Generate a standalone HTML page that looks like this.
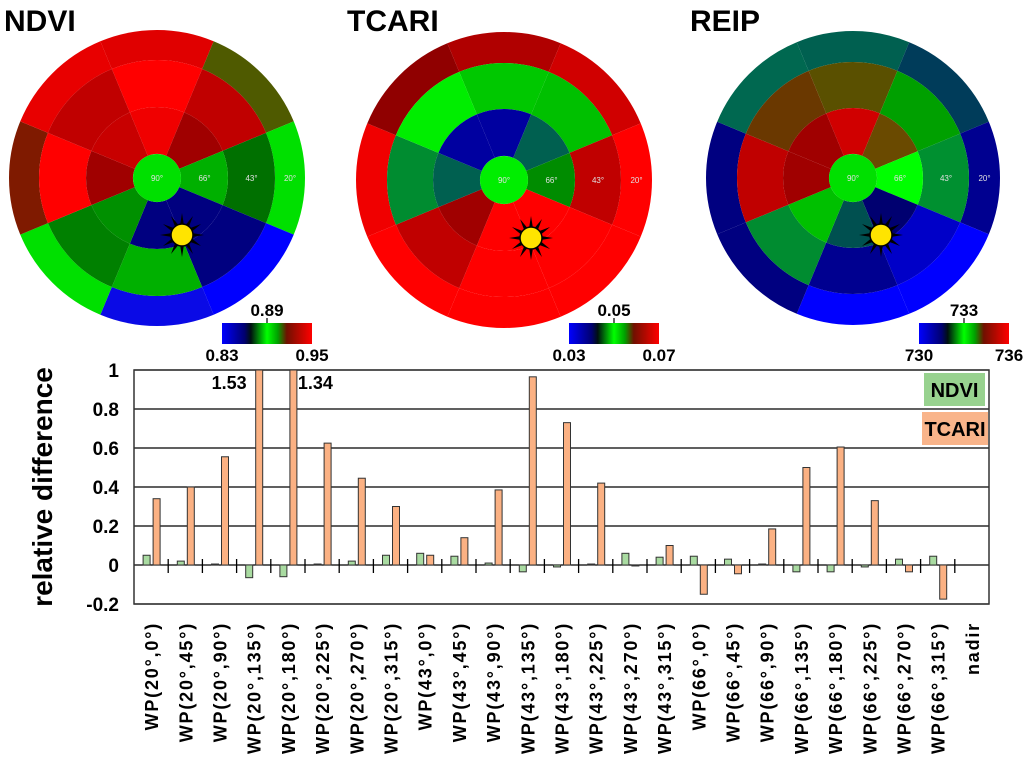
<!DOCTYPE html>
<html><head><meta charset="utf-8">
<style>
html,body{margin:0;padding:0;background:#fff;}
svg{display:block;font-family:"Liberation Sans",sans-serif;}
</style></head>
<body>
<svg id="fig" width="1024" height="763" viewBox="0 0 1024 763" xmlns="http://www.w3.org/2000/svg">
<defs>
<linearGradient id="cmap" x1="0" x2="1" y1="0" y2="0">
<stop offset="0" stop-color="#0000ff"/>
<stop offset="0.25" stop-color="#000070"/>
<stop offset="0.32" stop-color="#001010"/>
<stop offset="0.5" stop-color="#00ff00"/>
<stop offset="0.62" stop-color="#00a000"/>
<stop offset="0.72" stop-color="#701000"/>
<stop offset="1" stop-color="#ff0000"/>
</linearGradient>
</defs>
<g id="polars"></g>
<g id="chart"></g>
</svg>
<script>
// Polar heatmaps: sectors N,NE,E,SE,S,SW,W,NW; rings outer(20°), middle(43°), inner(66°)
const ndviOuter = ["#e00000","#4f5a00","#00e000","#0000ff","#0a0ae6","#00e000","#7f1a00","#e80000"];
const ndviMiddle = ["#ff0000","#c00000","#007000","#000080","#00b000","#008000","#ff0000","#c00000"];
const ndviInner = ["#f00000","#a00000","#00b000","#000080","#000080","#009000","#a00000","#c80000"];
const ndviCenter = "#00e000";
const tcariOuter = ["#b00000","#d00000","#ff0000","#ff0000","#ff0000","#ff0000","#f00000","#900000"];
const tcariMiddle = ["#00c800","#00c000","#c00000","#ff0000","#ff0000","#c00000","#008c30","#00ee00"];
const tcariInner = ["#0000a0","#006050","#008c00","#ff0000","#ff0000","#a00000","#006050","#0000a0"];
const tcariCenter = "#00ee00";
const reipOuter = ["#006050","#003c5a","#000090","#0000ff","#0000ff","#000080","#000080","#006850"];
const reipMiddle = ["#5a5000","#00a000","#009030","#0000c8","#000090","#008c30","#c00000","#6a3800"];
const reipInner = ["#d00000","#6a4a00","#00ff00","#000070","#005050","#00c000","#a00000","#a00000"];
const reipCenter = "#00e000";
const polarTitles = ["NDVI","TCARI","REIP"];
const cbarLabels = [["0.83","0.89","0.95"],["0.03","0.05","0.07"],["730","733","736"]];

// Bar chart data
const categories = ["WP(20°,0°)","WP(20°,45°)","WP(20°,90°)","WP(20°,135°)","WP(20°,180°)","WP(20°,225°)","WP(20°,270°)","WP(20°,315°)","WP(43°,0°)","WP(43°,45°)","WP(43°,90°)","WP(43°,135°)","WP(43°,180°)","WP(43°,225°)","WP(43°,270°)","WP(43°,315°)","WP(66°,0°)","WP(66°,45°)","WP(66°,90°)","WP(66°,135°)","WP(66°,180°)","WP(66°,225°)","WP(66°,270°)","WP(66°,315°)","nadir"];
const ndviValues = [0.05,0.02,0.005,-0.065,-0.06,0.005,0.02,0.05,0.06,0.045,0.01,-0.035,-0.01,0.005,0.06,0.04,0.045,0.03,0.005,-0.035,-0.035,-0.01,0.03,0.045,0];
const tcariValues = [0.34,0.40,0.555,1.53,1.34,0.625,0.445,0.30,0.05,0.14,0.385,0.965,0.73,0.42,-0.005,0.10,-0.15,-0.045,0.185,0.50,0.605,0.33,-0.035,-0.175,0];
const yTicks = [1,0.8,0.6,0.4,0.2,0,-0.2];
const yTickLabels = ["1","0.8","0.6","0.4","0.2","0","-0.2"];

const NS="http://www.w3.org/2000/svg";
function mk(tag,attrs,parent){const e=document.createElementNS(NS,tag);for(const k in attrs)e.setAttribute(k,attrs[k]);parent.appendChild(e);return e;}
function pt(cx,cy,r,b){const a=b*Math.PI/180;return [cx+r*Math.sin(a),cy-r*Math.cos(a)];}
function sector(cx,cy,r0,r1,b0,b1){
  const p1=pt(cx,cy,r1,b0),p2=pt(cx,cy,r1,b1),p3=pt(cx,cy,r0,b1),p4=pt(cx,cy,r0,b0);
  return `M${p1}A${r1},${r1} 0 0 1 ${p2}L${p3}A${r0},${r0} 0 0 0 ${p4}Z`;
}
const polarsG=document.getElementById('polars');
const polarSpecs=[
 {cx:157,cy:178,r:[24,71,118,148],rings:[ndviInner,ndviMiddle,ndviOuter],center:ndviCenter,sun:[182,235],tx:0,cb:222},
 {cx:504,cy:180,r:[24,71,117,148],rings:[tcariInner,tcariMiddle,tcariOuter],center:tcariCenter,sun:[531,238],tx:343,cb:569},
 {cx:853,cy:178,r:[24,70,116,147],rings:[reipInner,reipMiddle,reipOuter],center:reipCenter,sun:[881,235],tx:686,cb:919}
];
polarSpecs.forEach((s,pi)=>{
  const g=mk('g',{},polarsG);
  
  
  const t=mk('text',{x:s.tx+4,y:31,'font-size':30,'font-weight':'bold',fill:'#000'},g);
  t.textContent=polarTitles[pi];
  
  
  for(let ri=2;ri>=0;ri--){
    for(let k=0;k<8;k++){
      const p=mk('path',{d:sector(s.cx,s.cy,s.r[ri],s.r[ri+1],k*45-22.5,k*45+22.5),fill:s.rings[ri][k]},g);
      
      
    }
  }
  const c=mk('circle',{cx:s.cx,cy:s.cy,r:s.r[0],fill:s.center},g);
  
  
  [["90°",0],["66°",(s.r[0]+s.r[1])/2],["43°",(s.r[1]+s.r[2])/2],["20°",(s.r[2]+s.r[3])/2]].forEach(([lab,rr])=>{
    const tt=mk('text',{x:s.cx+rr,y:s.cy+3,'font-size':8,fill:'#e0e0e0','text-anchor':'middle'},g);
    tt.textContent=lab;
    
    
  });
  const sg=mk('g',{},g);
  
  
  const [sx,sy]=s.sun;
  for(let k=0;k<12;k++){
    const a=k*30*Math.PI/180,b1=a-0.2,b2=a+0.2;
    mk('polygon',{points:`${sx+10*Math.sin(b1)},${sy-10*Math.cos(b1)} ${sx+22*Math.sin(a)},${sy-22*Math.cos(a)} ${sx+10*Math.sin(b2)},${sy-10*Math.cos(b2)}`,fill:'#000'},sg);
  }
  mk('circle',{cx:sx,cy:sy,r:11,fill:'#ffe400',stroke:'#000','stroke-width':1.5},sg);
  const cb=mk('g',{},g);
  
  
  mk('rect',{x:s.cb,y:323,width:90,height:21,fill:'url(#cmap)'},cb);
  mk('line',{x1:s.cb+45,x2:s.cb+45,y1:318,y2:323,stroke:'#000','stroke-width':1.2},cb);
  const lbl=cbarLabels[pi];
  [[s.cb,361,lbl[0]],[s.cb+45,316,lbl[1]],[s.cb+90,361,lbl[2]]].forEach(([x,y,tx])=>{
    const e=mk('text',{x:x,y:y,'font-size':17,'font-weight':'bold','text-anchor':'middle',fill:'#000'},cb);
    e.textContent=tx;
    
    
  });
});

// Bar chart
const chart=document.getElementById('chart');
const X0=134,X1=989,Y0=370,Y1=604,VMAX=1,VMIN=-0.2;
const bandW=(X1-X0)/categories.length;
function yScale(v){return Y0+(VMAX-v)/(VMAX-VMIN)*(Y1-Y0);}
function xCenter(i){return X0+bandW*(i+0.5);}
function clampV(v){return Math.max(VMIN,Math.min(VMAX,v));}
yTicks.forEach((v,i)=>{
  const y=yScale(v);
  const l=mk('line',{x1:X0,x2:X1,y1:y,y2:y,stroke:'#000','stroke-width':1.3},chart);
  
  
  const t=mk('text',{x:X0-15,y:y+7,'font-size':19,'font-weight':'bold','text-anchor':'end',fill:'#000'},chart);
  t.textContent=yTickLabels[i];
  
  
});
const frame=mk('rect',{x:X0,y:Y0,width:X1-X0,height:Y1-Y0,fill:'none',stroke:'#333','stroke-width':1.5},chart);


const yt=mk('text',{x:0,y:0,'font-size':28,'font-weight':'bold','text-anchor':'middle',fill:'#000',transform:`translate(52,${(Y0+Y1)/2}) rotate(-90)`},chart);
yt.textContent='relative difference';


const y0=yScale(0);
categories.forEach((c,i)=>{
  const cx=xCenter(i);
  if(i>0){
    const tk=mk('line',{x1:X0+bandW*i,x2:X0+bandW*i,y1:y0-6,y2:y0+8,stroke:'#000','stroke-width':1.3},chart);
    
    
  }
  const gv=clampV(ndviValues[i]);
  const gb=mk('rect',{x:cx-8,y:Math.min(yScale(gv),y0),width:7,height:Math.abs(yScale(gv)-y0),fill:'#a9dba1',stroke:'#333','stroke-width':1},chart);
  
  
  const ov=clampV(tcariValues[i]);
  const ob=mk('rect',{x:cx+2,y:Math.min(yScale(ov),y0),width:7,height:Math.abs(yScale(ov)-y0),fill:'#fbb183',stroke:'#333','stroke-width':1},chart);
  
  
  if(tcariValues[i]>VMAX){
    const lbl=mk('text',{x:i===3?cx-7:cx+10,y:Y0+19,'font-size':18,'font-weight':'bold','text-anchor':i===3?'end':'start',fill:'#000'},chart);
    lbl.textContent=tcariValues[i].toFixed(2);
    
    
  }
  const xl=mk('text',{x:0,y:0,'font-size':18,'font-weight':'bold','letter-spacing':'1.8','text-anchor':'end',fill:'#000',transform:`translate(${cx+7},622) rotate(-90)`},chart);
  xl.textContent=c;
  
  
});
const lg=mk('g',{},chart);


const l1=mk('rect',{x:924,y:373,width:61,height:33,fill:'#98d28f'},lg);


const lt1=mk('text',{x:954.5,y:397,'font-size':20,'font-weight':'bold','text-anchor':'middle',fill:'#000'},lg);
lt1.textContent='NDVI';


const l2=mk('rect',{x:922,y:412,width:66,height:33,fill:'#f9b48a'},lg);


const lt2=mk('text',{x:955,y:436,'font-size':20,'font-weight':'bold','text-anchor':'middle',fill:'#000'},lg);
lt2.textContent='TCARI';


</script>
</body></html>
